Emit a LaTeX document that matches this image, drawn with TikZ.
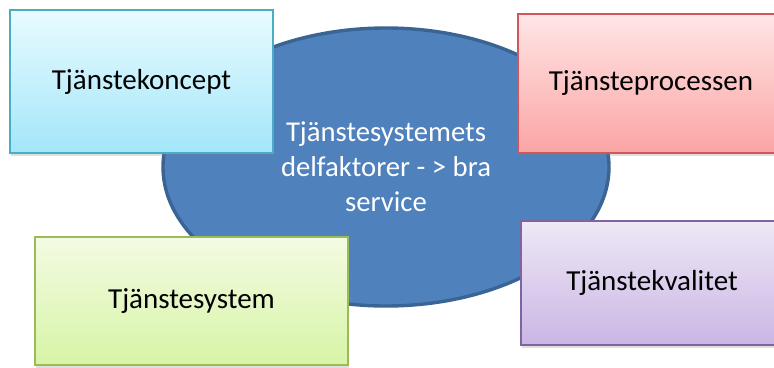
\documentclass[tikz,border=0pt]{standalone}
\usepackage{fontspec}
\setmainfont{Carlito}
\usetikzlibrary{shadows,shapes.geometric}
\definecolor{coreFill}{HTML}{4F81BD}
\definecolor{coreEdge}{HTML}{3A6494}
\definecolor{cyanTop}{HTML}{E8FBFF}
\definecolor{cyanBot}{HTML}{A3E6FA}
\definecolor{cyanEdge}{HTML}{4BACC6}
\definecolor{redTop}{HTML}{FFE6E6}
\definecolor{redBot}{HTML}{FBA4A4}
\definecolor{redEdge}{HTML}{D0575A}
\definecolor{greenTop}{HTML}{F3FBE2}
\definecolor{greenBot}{HTML}{D7F4A6}
\definecolor{greenEdge}{HTML}{9BBB59}
\definecolor{violetTop}{HTML}{EEE8F6}
\definecolor{violetBot}{HTML}{CAB6E4}
\definecolor{violetEdge}{HTML}{8064A2}
\begin{document}
\begin{tikzpicture}[x=1pt,y=-1pt,
  card/.style={rectangle, line width=1.4pt, inner sep=0pt, text=black,
    font=\fontsize{29}{34}\selectfont,
    drop shadow={shadow xshift=1pt, shadow yshift=-3pt, opacity=0.25}},
  core/.style={ellipse, fill=coreFill, draw=coreEdge, line width=3.4pt, inner sep=0pt,
    text=white, align=center, font=\fontsize{28.7}{35}\selectfont}]
\useasboundingbox (0,0) rectangle (774,367);
\clip (0,0) rectangle (774,367);
\fill[white] (0,0) rectangle (774,367);
\node[core, minimum width=446pt, minimum height=278pt] (hub) at (386,167)
  {Tjänstesystemets\\delfaktorer - > bra\\service};
\node[card, draw=cyanEdge, top color=cyanTop, bottom color=cyanBot,
  minimum width=263pt, minimum height=143pt] (koncept) at (141.5,81.5) {Tjänstekoncept};
\node[card, draw=redEdge, top color=redTop, bottom color=redBot,
  minimum width=266pt, minimum height=139pt] (process) at (651,83.5) {Tjänsteprocessen};
\node[card, draw=greenEdge, top color=greenTop, bottom color=greenBot,
  minimum width=313pt, minimum height=128pt] (system) at (191.5,301) {Tjänstesystem};
\node[card, draw=violetEdge, top color=violetTop, bottom color=violetBot,
  minimum width=262pt, minimum height=124pt] (kvalitet) at (652,283) {Tjänstekvalitet};
\end{tikzpicture}
\end{document}
